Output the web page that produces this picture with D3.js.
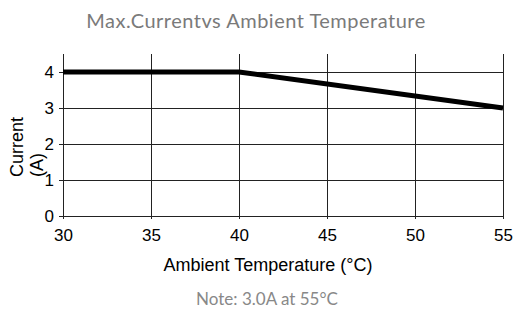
<!DOCTYPE html>
<html>
<head>
<meta charset="utf-8">
<script src="https://cdn.jsdelivr.net/npm/d3@7"></script>
<style>
  body { margin: 0; background: #fff; }
  svg { display: block; }
</style>
</head>
<body>
<div id="chart"></div>
<script>
// derating curve data
const temps = [30, 40, 55];
const currents = [4, 4, 3];
const xTicks = [30, 35, 40, 45, 50, 55];
const yTicks = [0, 1, 2, 3, 4];
const titleText = 'Max.Currentvs Ambient Temperature';
const noteText = 'Note: 3.0A at 55\u00b0C';

const width = 516;
const height = 309;
const margin = { top: 54, right: 13, bottom: 93, left: 63 };
const innerWidth = width - margin.left - margin.right;
const innerHeight = height - margin.top - margin.bottom;

const svg = d3.select('#chart')
    .append('svg')
    .attr('width', width)
    .attr('height', height);

const g = svg.append('g').attr('transform', `translate(${margin.left}, ${margin.top})`);

const x = d3.scaleLinear().domain([30, 55]).range([0, innerWidth]);
const y = d3.scaleLinear().domain([0, 4.5]).range([innerHeight, 0]);

// grid lines
g.append('g')
    .selectAll('line.hgrid')
    .data(yTicks.filter(function(d) { return d > 0; }))
    .join('line')
    .attr('x1', 0)
    .attr('x2', innerWidth)
    .attr('y1', function(d) { return Math.round(y(d)) + 0.5; })
    .attr('y2', function(d) { return Math.round(y(d)) + 0.5; })
    .attr('stroke', '#222')
    .attr('stroke-width', 1);

g.append('g')
    .selectAll('line.vgrid')
    .data(xTicks.filter(function(d) { return d > 30; }))
    .join('line')
    .attr('x1', function(d) { return Math.round(x(d)) + 0.5; })
    .attr('x2', function(d) { return Math.round(x(d)) + 0.5; })
    .attr('y1', 0)
    .attr('y2', innerHeight)
    .attr('stroke', '#222')
    .attr('stroke-width', 1);

// axes
const xAxis = g.append('g')
    .attr('transform', `translate(0, ${innerHeight})`)
    .call(d3.axisBottom(x).tickValues(xTicks).tickSize(3).tickPadding(10));

const yAxis = g.append('g')
    .call(d3.axisLeft(y).tickValues(yTicks).tickFormat(d3.format('d')).tickSize(4).tickPadding(5));

[xAxis, yAxis].forEach(function(a) {
    a.select('.domain').attr('stroke', '#222');
    a.selectAll('.tick line').attr('stroke', '#222');
    a.selectAll('.tick text')
        .attr('fill', '#000')
        .style('font-family', '"Liberation Sans", Arial, sans-serif')
        .style('font-size', '17px');
});
yAxis.select('.domain').attr('d', `M-4,${innerHeight + 0.5}H0.5V0`);
xAxis.select('.domain').attr('d', `M0.5,0.5H${innerWidth + 0.5}`);

// curve
const line = d3.line()
    .x(function(d, i) { return x(temps[i]); })
    .y(function(d) { return y(d); });

g.append('path')
    .datum(currents)
    .attr('d', line)
    .attr('fill', 'none')
    .attr('stroke', '#000')
    .attr('stroke-width', 5);

// titles
svg.append('text')
    .attr('x', 256)
    .attr('y', 28)
    .attr('text-anchor', 'middle')
    .attr('fill', '#7a7a7a')
    .style('font-family', 'Lato, "Open Sans", sans-serif')
    .style('font-size', '20px')
    .style('letter-spacing', '0.5px')
    .text(titleText);

svg.append('text')
    .attr('x', 268)
    .attr('y', 271)
    .attr('text-anchor', 'middle')
    .attr('fill', '#000')
    .style('font-family', '"Liberation Sans", Arial, sans-serif')
    .style('font-size', '18px')
    .text('Ambient Temperature (\u00b0C)');

const yLabel = svg.append('text')
    .attr('transform', 'translate(23, 177) rotate(-90)')
    .attr('text-anchor', 'start')
    .attr('fill', '#000')
    .style('font-family', '"Liberation Sans", Arial, sans-serif')
    .style('font-size', '18px');
yLabel.append('tspan').attr('x', 0).attr('dy', 0).text('Current');
yLabel.append('tspan').attr('x', 0).attr('dy', 20).text('(A)');

svg.append('text')
    .attr('x', 267)
    .attr('y', 305)
    .attr('text-anchor', 'middle')
    .attr('fill', '#888')
    .style('font-family', 'Lato, "Open Sans", sans-serif')
    .style('font-size', '17px')
    .text(noteText);
</script>
</body>
</html>
